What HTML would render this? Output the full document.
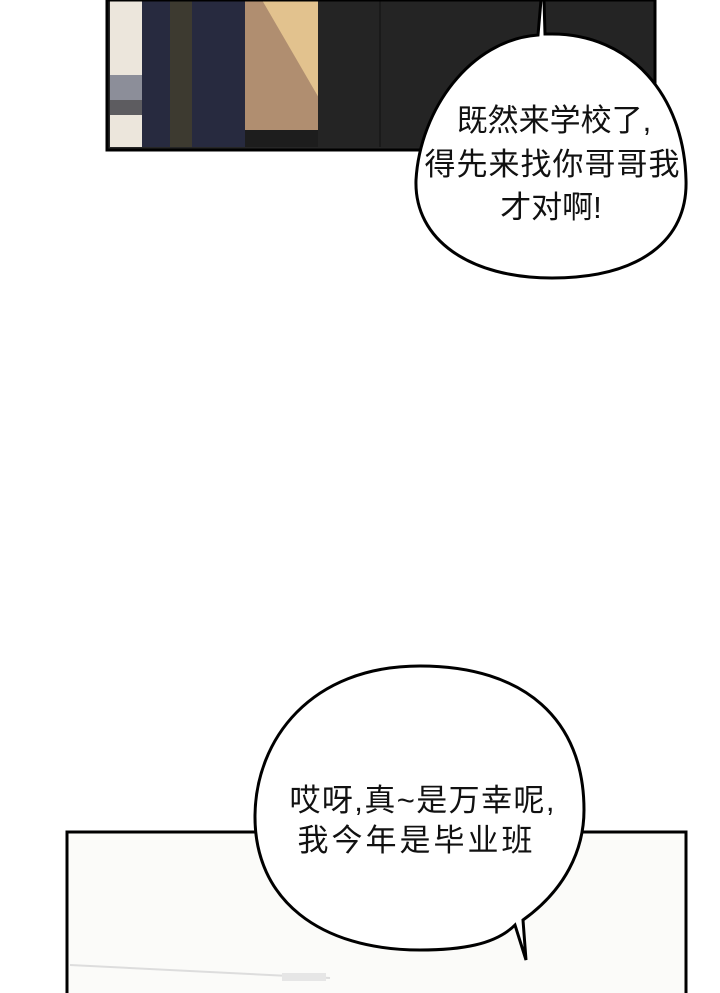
<!DOCTYPE html>
<html><head><meta charset="utf-8"><style>
html,body{margin:0;padding:0;background:#fff;}
svg{display:block}
text{font-family:"Liberation Sans","Noto Sans CJK SC",sans-serif;font-size:31px;fill:#111;}
</style></head><body>
<svg width="720" height="993" viewBox="0 0 720 993" xmlns="http://www.w3.org/2000/svg">
<rect width="720" height="993" fill="#fff"/>
<g>
<rect x="108" y="0" width="546" height="149" fill="#262626"/>
<rect x="110" y="0" width="34" height="147" fill="#ece6dc"/>
<rect x="110" y="75" width="34" height="25" fill="#8c8e99"/>
<rect x="110" y="100" width="34" height="15" fill="#5d5c60"/>
<rect x="142" y="0" width="104" height="147" fill="#272a3f"/>
<rect x="170" y="0" width="22" height="147" fill="#3d3a30"/>
<rect x="245" y="0" width="78" height="130" fill="#b08e70"/>
<polygon points="262,0 323,0 323,105" fill="#e2c28e"/>
<rect x="245" y="130" width="75" height="17" fill="#1d1d1d"/>
<rect x="318" y="0" width="336" height="147" fill="#242424"/>
<line x1="380" y1="0" x2="380" y2="147" stroke="#1a1a1a" stroke-width="2"/>
<rect x="107" y="0" width="548" height="150" fill="none" stroke="#000" stroke-width="3"/>
</g>
<path d="M541,0 L538,35 C470,40 420,110 416,180 C414,240 470,278 552,278 C640,278 688,240 686,180 C684,95 630,34 552,34 L545,34 L544,0 Z" fill="#fff" stroke="#000" stroke-width="3"/>
<text x="554" y="131" text-anchor="middle">既然来学校了,</text>
<text x="552" y="175" text-anchor="middle" textLength="255">得先来找你哥哥我</text>
<text x="551" y="218" text-anchor="middle">才对啊!</text>
<rect x="67" y="832" width="619" height="170" fill="#fbfbf9" stroke="#000" stroke-width="3"/>
<line x1="70" y1="965" x2="330" y2="978" stroke="#ddd" stroke-width="2"/>
<rect x="282" y="973" width="44" height="8" fill="#e6e6e6"/>
<path d="M420,666 C310,666 256,740 255,815 C254,900 320,950 420,950 C460,950 495,945 515,925 L526,960 L523,920 C565,890 584,850 584,810 C584,720 525,666 420,666 Z" fill="#fff" stroke="#000" stroke-width="3"/>
<text x="422" y="811" text-anchor="middle" textLength="265">哎呀,真~是万幸呢,</text>
<text x="415" y="851" text-anchor="middle" textLength="235">我今年是毕业班</text>
</svg>
</body></html>
